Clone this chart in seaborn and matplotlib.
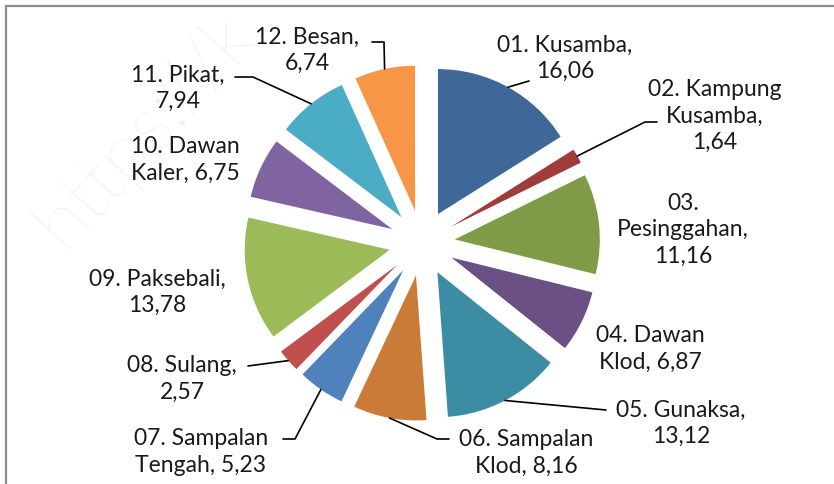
import numpy as np
import matplotlib
matplotlib.use('Agg')
import matplotlib.pyplot as plt
import seaborn as sns

# data
categories = ['01. Kusamba', '02. Kampung\nKusamba', '03.\nPesinggahan', '04. Dawan\nKlod',
              '05. Gunaksa', '06. Sampalan\nKlod', '07. Sampalan\nTengah', '08. Sulang',
              '09. Paksebali', '10. Dawan\nKaler', '11. Pikat', '12. Besan']
values = [16.06, 1.64, 11.16, 6.87, 13.12, 8.16, 5.23, 2.57, 13.78, 6.75, 7.94, 6.74]
# where the value goes after the name: new line or same line
value_sep = ['\n', '\n', '\n', ' ', '\n', ' ', ' ', '\n', '\n', ' ', '\n', '\n']
colors = ['#3F6797', '#9E3D3A', '#7F9B48', '#6A5084', '#3C8DA3', '#CB7B38',
          '#4F81BD', '#C0504D', '#9BBB59', '#8064A2', '#4BACC6', '#F79646']

W, H = 834, 485

# label layout in pixel coords (x, y from top)
label_pos = [(565, 58), (715, 116), (683, 230), (650, 349), (681, 423), (526, 453),
             (201, 452), (182, 379), (157, 292), (185, 160), (178, 88), (307, 50)]
# leader lines: elbow and end point near the label, None = no leader
leaders = [((529, 82), (529, 82)), ((645, 123), (657, 123)), None, None,
           ((606, 411), (606, 411)), ((437, 440), (449, 440)), ((295, 440), (283, 440)),
           ((248, 367), (248, 367)), None, None, ((253, 78), (235, 78)), ((384, 43), (372, 43))]

sns.set_theme(style='white')
plt.rcParams['font.family'] = ['Lato', 'DejaVu Sans']

fig = plt.figure(figsize=(W / 100, H / 100), dpi=100)
ax = fig.add_axes([0, 0, 1, 1])

wedges, _ = ax.pie(values, colors=colors, startangle=90, counterclock=False,
                   center=(422, H - 244), radius=145, explode=[33] * len(values),
                   wedgeprops=dict(linewidth=0))
ax.set_xlim(0, W)
ax.set_ylim(0, H)
ax.set_aspect('auto')
ax.axis('off')

# faint watermark (only the part that shows)
ax.text(64, H - 250, 'https://k', rotation=48, rotation_mode='anchor',
        ha='left', va='baseline', fontsize=56, color='#efefef', fontweight='light', zorder=0)

for i, w in enumerate(wedges):
    txt = categories[i] + ',' + value_sep[i] + f'{values[i]:.2f}'.replace('.', ',')
    lx, ly = label_pos[i]
    ax.text(lx, H - ly, txt, ha='center', va='center', fontsize=16.5, fontweight='normal',
            color='#1a1a1a', linespacing=1.3, zorder=5)
    if leaders[i] is not None:
        th = np.deg2rad((w.theta1 + w.theta2) / 2)
        sx = w.center[0] + w.r * np.cos(th)
        sy = w.center[1] + w.r * np.sin(th)
        (ex, ey), (hx, hy) = leaders[i]
        ax.plot([sx, ex, hx], [sy, H - ey, H - hy], color='black', lw=1.2, zorder=4)

# chart border (cut off at right and bottom)
ax.plot([6, 6, W + 5], [0, H - 7, H - 7], color='#8c8c8c', lw=1.6, solid_joinstyle='miter')

fig.savefig('out.png', dpi=100)
